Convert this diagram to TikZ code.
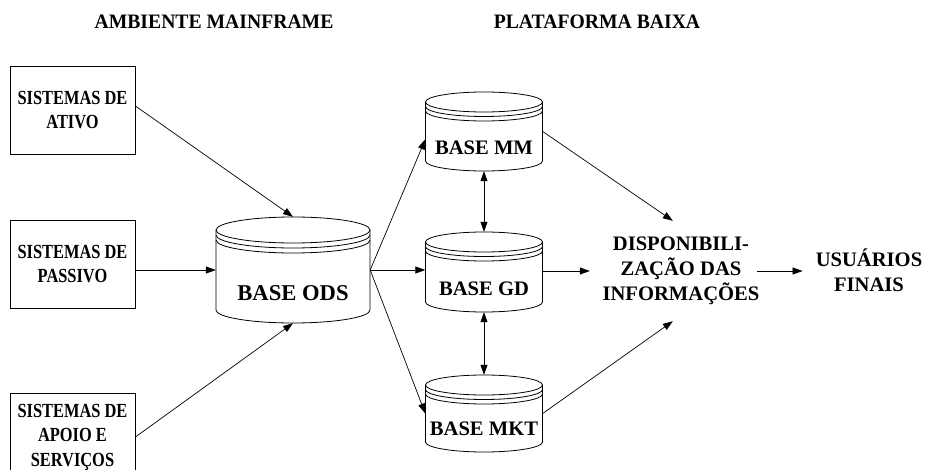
\documentclass[tikz,border=0pt]{standalone}
\usepackage{fontspec}
\setmainfont{Liberation Serif}
\newfontfamily\condfont{Liberation Serif}[FakeStretch=0.82]
\newfontfamily\titlefont{Liberation Serif}[FakeStretch=0.96]
\usetikzlibrary{arrows.meta,calc}
\newcommand\drawdb[7]{% cx, ytop, ybot, rx, ry, band1, band2
  \draw[cylline] (#1-#4,#2) -- (#1-#4,#3) arc[start angle=180,end angle=0,x radius=#4,y radius=#5] -- (#1+#4,#2);
  \draw[cylline] (#1,#2) ellipse[x radius=#4,y radius=#5];
  \draw[cylline] (#1-#4,#2+#6) arc[start angle=180,end angle=0,x radius=#4,y radius=#5];
  \draw[cylline] (#1-#4,#2+#7) arc[start angle=180,end angle=0,x radius=#4,y radius=#5];
}
\begin{document}
\begin{tikzpicture}[x=1pt,y=-1pt,
  cylline/.style={line width=0.8pt},
  arr/.style={line width=0.7pt,-{Triangle[length=10pt,width=7pt]}},
  darr/.style={line width=0.7pt,{Triangle[length=10pt,width=7pt]}-{Triangle[length=10pt,width=7pt]}},
  sysbox/.style={draw,line width=0.8pt,minimum width=125pt,minimum height=88pt,align=center,inner sep=0pt,
    font=\condfont\bfseries\fontsize{20}{24.5}\selectfont},
  title/.style={font=\titlefont\bfseries\fontsize{20.5}{24}\selectfont,inner sep=0pt},
  cylnode/.style={inner sep=0pt},
  cyltext/.style={font=\bfseries\fontsize{20.6}{25}\selectfont,inner sep=0pt},
  plain/.style={align=center,font=\bfseries\fontsize{20.6}{25}\selectfont,inner sep=0pt}]
\useasboundingbox (0,0) rectangle (929,470);
\clip (0,0) rectangle (929,470);

% titles
\node[title] (t1) at (214,22) {AMBIENTE MAINFRAME};
\node[title] (t2) at (597,22) {PLATAFORMA BAIXA};

% source boxes
\node[sysbox] (b1) at (72.5,110) {SISTEMAS DE\\ATIVO};
\node[sysbox] (b2) at (72.5,264) {SISTEMAS DE\\PASSIVO};
\node[sysbox] (b3) at (72.5,437) {SISTEMAS DE\\APOIO E\\SERVIÇOS};

% cylinders
\drawdb{293}{230}{310}{77}{13}{5}{10}
\node[cylnode,minimum width=154pt,minimum height=106pt] (ods) at (293,270) {};
\node[cyltext,font=\bfseries\fontsize{22.6}{26}\selectfont] (odst) at (293,293) {BASE ODS};

\drawdb{484}{102}{161}{58.5}{10}{4.5}{9}
\node[cylnode,minimum width=117pt,minimum height=79pt] (mm) at (484,131.5) {};
\node[cyltext] (mmt) at (484,148) {BASE MM};

\drawdb{484}{242}{302}{58.5}{10}{4.5}{9}
\node[cylnode,minimum width=117pt,minimum height=80pt] (gd) at (484,272) {};
\node[cyltext] (gdt) at (484,289) {BASE GD};

\drawdb{484}{385}{442}{58.5}{10}{4.5}{9}
\node[cylnode,minimum width=117pt,minimum height=77pt] (mkt) at (484,413.5) {};
\node[cyltext] (mktt) at (484,429) {BASE MKT};

% right side
\node[plain,minimum width=182pt,minimum height=100pt] (disp) at (681,271) {DISPONIBILI-\\ZAÇÃO DAS\\INFORMAÇÕES};
\node[plain,inner xsep=13pt] (usu) at (869,270) {USUÁRIOS\\FINAIS};

% connectors
\draw[arr] ([yshift=4pt]b1.east) -- (ods.north);
\draw[arr] (b2.east |- ods.west) -- (ods.west);
\draw[arr] (b3.east) -- (ods.south);
\draw[arr] (ods.east) -- ($(mm.north west)!0.6!(mm.south west)$);
\draw[arr] (ods.east) -- (ods.east -| gd.west);
\draw[arr] (ods.east) -- (mkt.west);
\draw[darr] (mm.south) -- (gd.north);
\draw[darr] (gd.south) -- (mkt.north);
\draw[arr] (mm.east) -- ($(disp.north west)!0.455!(disp.north east)$);
\draw[arr] (gd.east |- disp.west) -- (disp.west);
\draw[arr] (mkt.east) -- ($(disp.south west)!0.455!(disp.south east)$);
\draw[arr] ([xshift=-15pt]disp.east) -- (disp.east -| usu.west);
\end{tikzpicture}
\end{document}
